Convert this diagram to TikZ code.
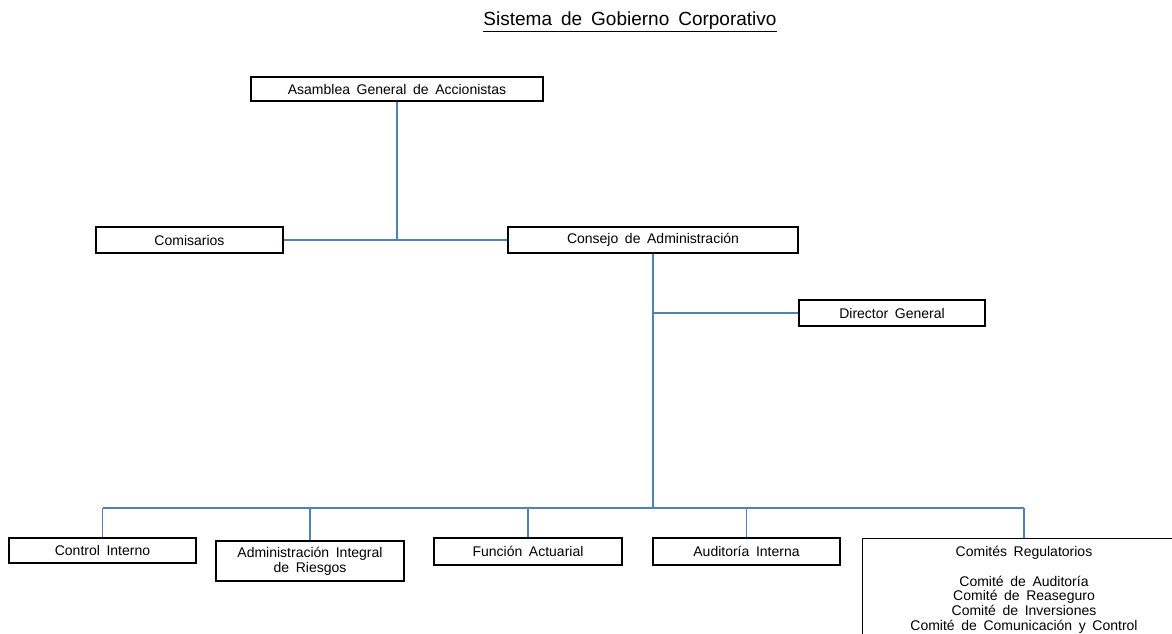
\documentclass[tikz,border=0pt]{standalone}
\usepackage{fontspec}
\setmainfont[WordSpace=1.7]{Liberation Sans}
\usepackage{xcolor}
\definecolor{linkblue}{HTML}{4F81BD}
\usepackage{tikz}
\usetikzlibrary{positioning, calc}

\begin{document}
\begin{tikzpicture}[x=1pt, y=-1pt,
    box/.style={draw=black, line width=1.4pt, fill=white, align=center,
      inner sep=2pt, font=\fontsize{14}{15}\selectfont},
    link/.style={draw=linkblue, line width=1.6pt}]
  \useasboundingbox (0,0) rectangle (1172,634);

  % Title
  \node[font=\fontsize{19}{22}\selectfont] (title) at (630,22)
    {\underline{Sistema de Gobierno Corporativo}};

  % Top of the tree
  \node[box, minimum width=292, minimum height=24] (asamblea) at (397,89)
    {Asamblea General de Accionistas};
  \node[box, minimum width=187, minimum height=26] (comisarios) at (189.5,240)
    {Comisarios};
  \node[box, minimum width=290, minimum height=26] (consejo) at (653,240)
    {Consejo de Administración};
  \node[box, minimum width=186, minimum height=26] (director) at (892,313)
    {Director General};

  % Bottom row
  \node[box, minimum width=187, minimum height=25] (control) at (102.5,550.5)
    {Control Interno};
  \node[box, minimum width=188, minimum height=40] (riesgos) at (310,561)
    {Administración Integral\\de Riesgos};
  \node[box, minimum width=188, minimum height=27] (funcion) at (528,551.5)
    {Función Actuarial};
  \node[box, minimum width=187, minimum height=27] (auditoria) at (746.5,551.5)
    {Auditoría Interna};

  % Committees box runs past the page edge
  \node[box, anchor=north west, minimum width=340, minimum height=130] (comites)
    at (862,538) {};
  \node[align=center, anchor=north, font=\fontsize{14}{14.7}\selectfont] (comtext)
    at (1024,543) {Comités Regulatorios\\[14.7pt]Comité de Auditoría\\
    Comité de Reaseguro\\Comité de Inversiones\\Comité de Comunicación y Control};

  % Junctions
  \coordinate (bus) at (653,508);
  \coordinate (cdrop) at (1024,538);

  % Connectors
  \draw[link] (asamblea.south) -- (asamblea.south |- consejo.west);
  \draw[link] (comisarios.east) -- (consejo.west);
  \draw[link] (consejo.south) -- (bus);
  \draw[link] (consejo.south |- director.west) -- (director.west);
  \draw[link] (control.north |- bus) -- (cdrop |- bus);
  \foreach \n in {control, riesgos, funcion, auditoria}
    \draw[link] (\n.north |- bus) -- (\n.north);
  \draw[link] (cdrop |- bus) -- (cdrop);
\end{tikzpicture}
\end{document}
